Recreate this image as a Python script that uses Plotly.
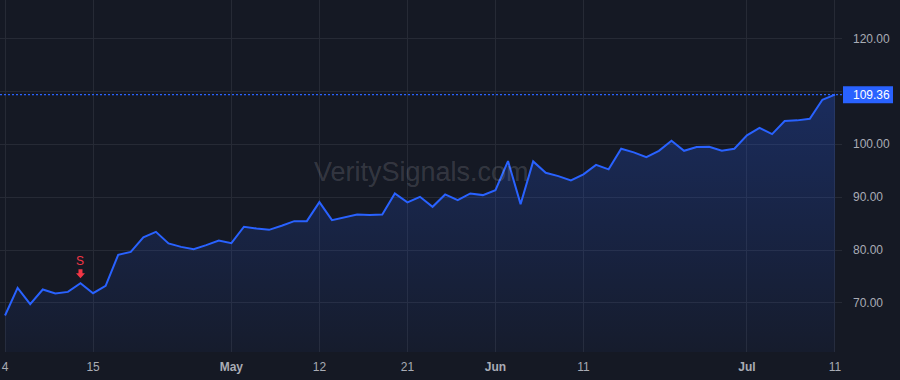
import plotly.graph_objects as go

dates = [
    "2025-04-04", "2025-04-07", "2025-04-08", "2025-04-09", "2025-04-10", "2025-04-11",
    "2025-04-14", "2025-04-15", "2025-04-16", "2025-04-17", "2025-04-21", "2025-04-22",
    "2025-04-23", "2025-04-24", "2025-04-25", "2025-04-28", "2025-04-29", "2025-04-30",
    "2025-05-01", "2025-05-02", "2025-05-05", "2025-05-06", "2025-05-07", "2025-05-08",
    "2025-05-09", "2025-05-12", "2025-05-13", "2025-05-14", "2025-05-15", "2025-05-16",
    "2025-05-19", "2025-05-20", "2025-05-21", "2025-05-22", "2025-05-23", "2025-05-27",
    "2025-05-28", "2025-05-29", "2025-05-30", "2025-06-02", "2025-06-03", "2025-06-04",
    "2025-06-05", "2025-06-06", "2025-06-09", "2025-06-10", "2025-06-11", "2025-06-12",
    "2025-06-13", "2025-06-16", "2025-06-17", "2025-06-18", "2025-06-20", "2025-06-23",
    "2025-06-24", "2025-06-25", "2025-06-26", "2025-06-27", "2025-06-30", "2025-07-01",
    "2025-07-02", "2025-07-03", "2025-07-07", "2025-07-08", "2025-07-09", "2025-07-10",
    "2025-07-11",
]

prices = [
    67.64, 72.85, 69.77, 72.55, 71.80, 72.10, 73.74, 71.85, 73.23, 79.10,
    79.66, 82.40, 83.44, 81.25, 80.60, 80.17, 80.93, 81.81, 81.30, 84.40,
    84.08, 83.82, 84.58, 85.46, 85.46, 89.05, 85.65, 86.16, 86.73, 86.60,
    86.73, 90.70, 89.00, 90.06, 88.17, 90.51, 89.43, 90.70, 90.38, 91.32,
    96.81, 88.68, 96.75, 94.60, 93.97, 93.16, 94.30, 96.10, 95.24, 99.13,
    98.45, 97.56, 98.75, 100.64, 98.75, 99.45, 99.51, 98.75, 99.13, 101.66,
    103.10, 101.90, 104.37, 104.50, 104.80, 108.40, 109.36,
]

holidays = ["2025-04-18", "2025-05-26", "2025-06-19", "2025-07-04"]

tick_dates = ["2025-04-04", "2025-04-15", "2025-05-01", "2025-05-12", "2025-05-21",
              "2025-06-02", "2025-06-11", "2025-07-01", "2025-07-11"]
tick_text = ["4", "15", "<b>May</b>", "12", "21", "<b>Jun</b>", "11", "<b>Jul</b>", "11"]

y_ticks = [70, 80, 90, 100, 110, 120]
# 110.00 is hidden behind the last-price label in the reference
y_tick_text = ["70.00", "80.00", "90.00", "100.00", "", "120.00"]

signal_date = "2025-04-14"
signal_label = "S"

watermark = "VeritySignals.com"

BG = "#151924"
GRID = "#262a35"
LINE = "#2962FF"
TXT = "#a9acb5"
RED = "#F23645"
FONT = "Liberation Sans, Arial, sans-serif"

last_price = prices[-1]
y_range = [60.74, 127.24]

fig = go.Figure()

fig.add_trace(go.Scatter(
    x=dates, y=prices, mode="lines",
    line=dict(color=LINE, width=2),
    fill="tozeroy",
    fillgradient=dict(
        type="vertical",
        colorscale=[[0, "rgba(41,98,255,0.04)"], [1, "rgba(41,98,255,0.26)"]],
        start=y_range[0], stop=last_price,
    ),
    hoverinfo="skip",
    showlegend=False,
))

# last price dotted line
fig.add_shape(type="line", xref="paper", x0=0, x1=1, yref="y",
              y0=last_price, y1=last_price,
              line=dict(color=LINE, width=1.2, dash="2px,2px"), layer="above")

# price label box
px_per_unit = 352 / (y_range[1] - y_range[0])
half_h = 8.5 / px_per_unit
fig.add_shape(type="rect", xref="paper", x0=1 + 1 / 842, x1=1 + 51 / 842,
              yref="y", y0=last_price - half_h, y1=last_price + half_h,
              fillcolor=LINE, line=dict(width=0), layer="above")
fig.add_annotation(x=1, xref="paper", xanchor="left", xshift=9,
                   y=last_price, yref="y", yanchor="middle",
                   text=f"{last_price:.2f}", showarrow=False,
                   font=dict(color="white", size=12, family=FONT))

# signal marker: thick down arrow (pixel-sized path anchored at the point) + "S"
sig_val = prices[dates.index(signal_date)]
fig.add_shape(type="path", xref="x", yref="y",
              xsizemode="pixel", ysizemode="pixel",
              xanchor=signal_date, yanchor=sig_val,
              path="M 0,5 L -4.5,10 L -2,10 L -2,14 L 2,14 L 2,10 L 4.5,10 Z",
              fillcolor=RED, line=dict(width=0), layer="above")
fig.add_annotation(x=signal_date, y=sig_val, text=signal_label,
                   showarrow=False, yshift=22, yanchor="middle",
                   font=dict(color=RED, size=12, family=FONT))

# watermark
fig.add_annotation(x=0.5, y=0.51, xref="paper", yref="paper",
                   text=watermark, showarrow=False,
                   font=dict(color="rgba(255,255,255,0.15)", size=27, family=FONT))

fig.update_layout(
    width=900, height=380,
    margin=dict(l=0, r=58, t=0, b=28),
    paper_bgcolor=BG, plot_bgcolor=BG,
    font=dict(family=FONT, size=12, color=TXT),
    xaxis=dict(
        type="date",
        range=["2025-04-03 14:24", "2025-07-11 13:26"],
        rangebreaks=[dict(bounds=["sat", "mon"]), dict(values=holidays)],
        tickvals=tick_dates, ticktext=tick_text,
        showgrid=True, gridcolor=GRID, gridwidth=1,
        zeroline=False, showline=False, ticks="",
        ticklabelstandoff=6,
        tickfont=dict(size=12, color=TXT),
    ),
    yaxis=dict(
        side="right",
        range=y_range,
        tickvals=y_ticks, ticktext=y_tick_text,
        showgrid=True, gridcolor=GRID, gridwidth=1,
        zeroline=False, showline=False, ticks="",
        ticklabelstandoff=10,
        tickfont=dict(size=12, color=TXT),
    ),
)

fig.write_html("out.html")
